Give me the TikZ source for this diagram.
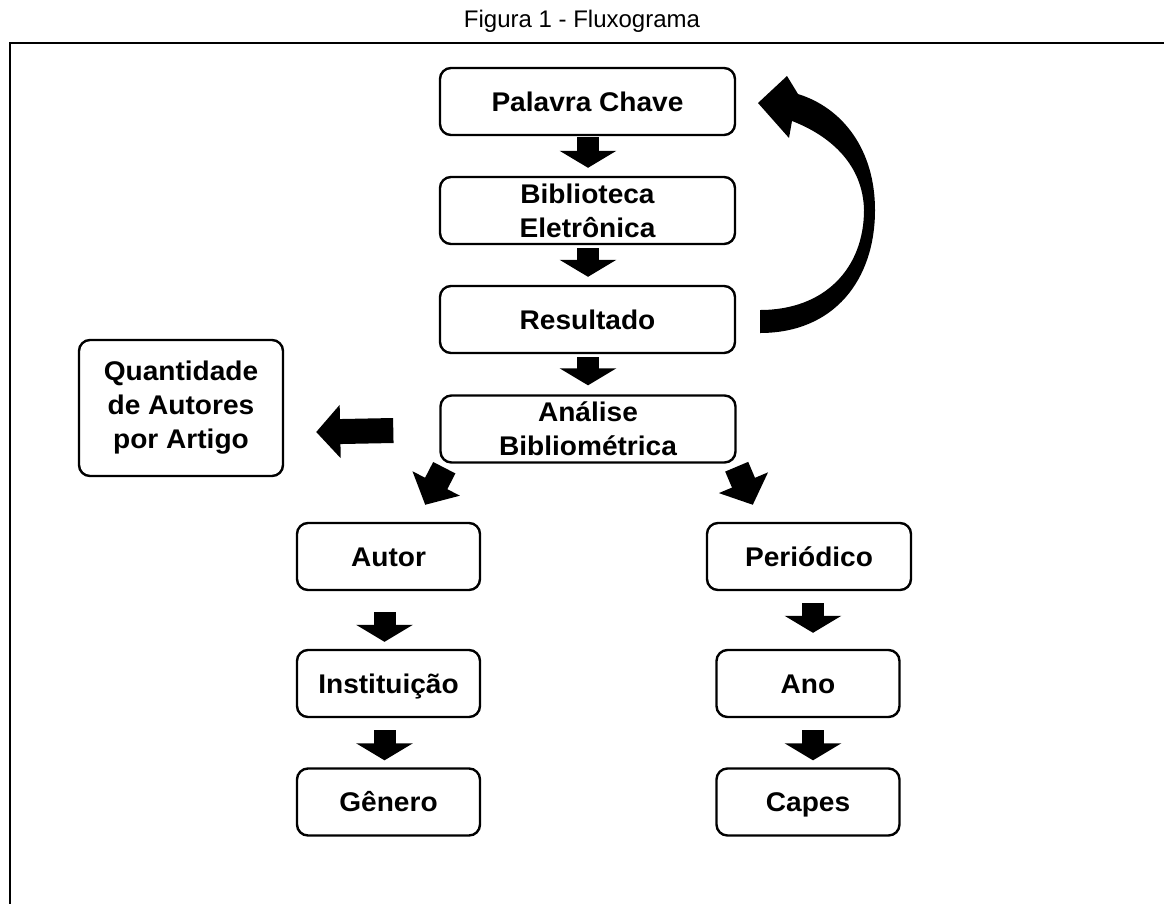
\documentclass[tikz,border=0pt]{standalone}
\usepackage{fontspec}
\setmainfont{Liberation Sans}
\newfontfamily\boxfont{Liberation Sans}[FakeStretch=1.04]
\usetikzlibrary{arrows.meta,calc}
\begin{document}
\begin{tikzpicture}[x=1pt,y=-1pt,
  box/.style={draw, line width=2.4pt, rounded corners=11pt, align=center, inner sep=0pt,
              font=\boxfont\fontsize{27}{34}\selectfont\bfseries},
  one/.style={text height=19.5pt, text depth=0pt},
  topbox/.style={box, minimum width=295pt, minimum height=67pt},
  colbox/.style={box, one, minimum width=183pt, minimum height=67pt},
  blk/.style={line width=22pt, -{Triangle[width=56pt,length=17pt]}},
  bigblk/.style={line width=25pt, -{Triangle[width=52pt,length=24pt]}},
  title/.style={font=\fontsize{24}{28}\selectfont},
]
\useasboundingbox (0,0) rectangle (1164,903);
\fill[white] (0,0) rectangle (1164,903);
\begin{scope}
  \clip (0,0) rectangle (1164,903);
  \draw[line width=2.2pt] (10,960) -- (10,43.3) -- (1200,43.3);
\end{scope}

\node[title] (ttl) at (582,21) {Figura 1 - Fluxograma};

% main chain
\node[topbox, one] (pc)  at (587.5,101.5) {Palavra Chave};
\node[topbox]      (bib) at (587.5,210.5) {Biblioteca\\Eletrônica};
\node[topbox, one] (res) at (587.5,319.5) {Resultado};
\node[topbox]      (ana) at (588,429)     {Análise\\Bibliométrica};
\node[box, minimum width=204pt, minimum height=136pt] (qtd) at (181,408)
     {Quantidade\\de Autores\\por Artigo};

% columns
\node[colbox] (autor) at (388.5,556.5) {Autor};
\node[colbox] (inst)  at (388.5,683.5) {Instituição};
\node[colbox] (gen)   at (388.5,802)   {Gênero};
\node[box, one, minimum width=204pt, minimum height=67pt] (per) at (809,556.5) {Periódico};
\node[colbox] (ano)   at (808,683.5)   {Ano};
\node[colbox] (cap)   at (808,802)     {Capes};

% block arrows
\draw[blk] ($(pc.south)+(0.5,1)$)   -- ($(bib.north)+(0.5,-8)$);
\draw[blk] ($(bib.south)+(0.5,3)$)  -- ($(res.north)+(0.5,-8)$);
\draw[blk] ($(res.south)+(0.5,3)$)  -- ($(ana.north)+(0,-9)$);
\draw[blk] ($(autor.south)+(-4,21)$) -- ($(inst.north)+(-4,-7)$);
\draw[blk] ($(inst.south)+(-4,12)$)  -- ($(gen.north)+(-4,-7)$);
\draw[blk] ($(per.south)+(4,12)$)    -- ($(ano.north)+(5,-16)$);
\draw[blk] ($(ano.south)+(5,12)$)    -- ($(cap.north)+(5,-7)$);

\draw[bigblk] ($(ana.west)+(-46,1.5)$) -- ($(qtd.east)+(32,24)$);
\draw[bigblk] ($(ana.south west)+(5,4)$) -- ($(autor.north east)+(-56,-17)$);
\draw[bigblk] ($(ana.south east)+(0,3)$) -- ($(per.north west)+(47,-17)$);

% curved return arrow
\fill (760,333) .. controls (834,333) and (875,280) .. (875,210)
      .. controls (875,150) and (843,108) .. (798,94)
      -- (787,76) -- (758,103) -- (789,138) -- (792,121)
      .. controls (831,136) and (863,165) .. (864,210)
      .. controls (864,268) and (825,310) .. (760,310) -- cycle;
\end{tikzpicture}
\end{document}
